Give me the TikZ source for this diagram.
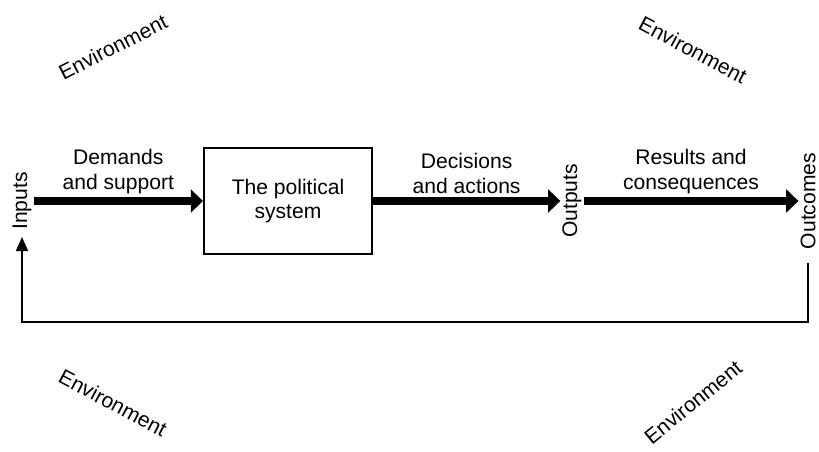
\documentclass[tikz,border=0pt]{standalone}
\usepackage{fontspec}
\setmainfont{Liberation Sans}
\usetikzlibrary{arrows.meta,positioning}

\begin{document}
\begin{tikzpicture}[x=0.02cm, y=-0.02cm,
	fat/.style = {line width=4.5pt, -{Triangle[length=7pt,width=13pt]}},
	thinarr/.style = {line width=0.6pt, -{Triangle[length=8pt,width=7pt]}},
	txt/.style = {font=\fontsize{12}{14}\selectfont, align=center},
	el/.style = {txt, above=1pt, inner sep=1pt},
	side/.style = {txt, rotate=90, inner sep=1pt},
	env/.style = {txt, inner sep=0pt}
	]
	\useasboundingbox (0,0) rectangle (819,452);
	
	\node (inp) [side] at (22,201) {Inputs};
	\node (sys) [txt,draw,line width=1.1pt,minimum width=3.36cm,minimum height=2.12cm] at (288,201) {The political\\system};
	\node (outp) [side] at (572,201) {Outputs};
	\node (outc) [side] at (808,201) {Outcomes};
	
	\node (envtl) [env,rotate=27]  at (113,47)  {Environment};
	\node (envtr) [env,rotate=-28] at (693,50)  {Environment};
	\node (envbl) [env,rotate=-28] at (113,403) {Environment};
	\node (envbr) [env,rotate=39]  at (693,402) {Environment};
	
	\coordinate (fbr) at (808,322);
	
	% side nodes are turned by 90: their south is on the right, their west at the bottom
	\path
	(inp.south)  edge [fat]  node[el]  {Demands\\and support}   (sys)
	(sys)        edge [fat]  node[el]  {Decisions\\and actions}  (outp.north)
	(outp.south) edge [fat]  node[el]  {Results and\\consequences} (outc.north);
	
	\draw[thinarr, shorten <=7pt, shorten >=3pt] (outc.west) -- (fbr) -| (inp.west);
\end{tikzpicture}
\end{document}
